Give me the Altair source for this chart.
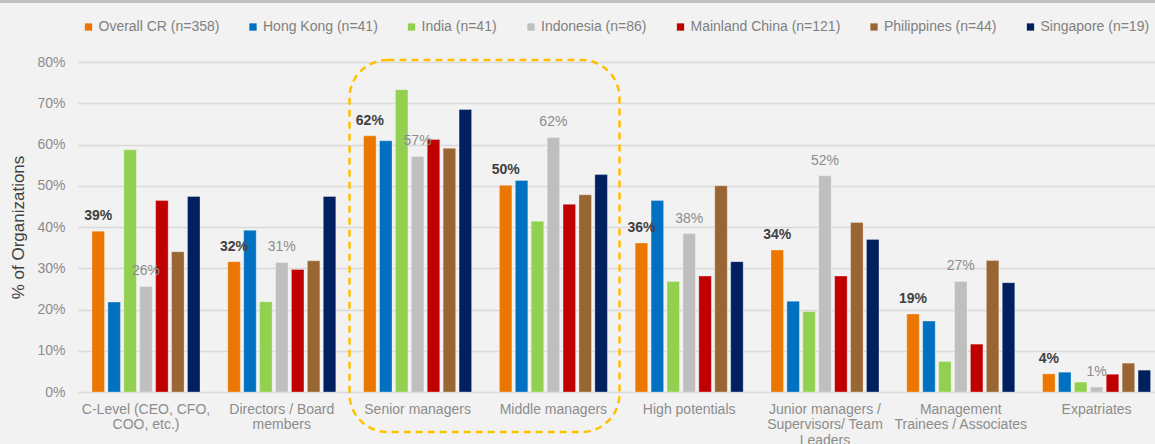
import altair as alt
import pandas as pd

categories = [
    "C-Level (CEO, CFO,\nCOO, etc.)",
    "Directors / Board\nmembers",
    "Senior managers",
    "Middle managers",
    "High potentials",
    "Junior managers /\nSupervisors/ Team\nLeaders",
    "Management\nTrainees / Associates",
    "Expatriates",
]
series = [
    "Overall CR (n=358)",
    "Hong Kong (n=41)",
    "India (n=41)",
    "Indonesia (n=86)",
    "Mainland China (n=121)",
    "Philippines (n=44)",
    "Singapore (n=19)",
]
colors = ["#EB7600", "#0070C0", "#92D050", "#BFBFBF", "#C00000", "#996633", "#002060"]

overall = [39.0, 31.6, 62.1, 50.1, 36.1, 34.4, 18.9, 4.4]
hong_kong = [21.8, 39.2, 60.9, 51.3, 46.4, 22.0, 17.2, 4.8]
india = [58.7, 21.9, 73.3, 41.4, 26.8, 19.5, 7.4, 2.4]
indonesia = [25.6, 31.4, 57.1, 61.7, 38.4, 52.4, 26.8, 1.2]
mainland = [46.4, 29.7, 61.2, 45.5, 28.1, 28.1, 11.6, 4.3]
philippines = [34.0, 31.8, 59.1, 47.8, 50.0, 41.1, 31.9, 7.0]
singapore = [47.4, 47.4, 68.5, 52.7, 31.6, 37.0, 26.5, 5.3]

y_ticks = [0, 10, 20, 30, 40, 50, 60, 70, 80]

all_values = [overall, hong_kong, india, indonesia, mainland, philippines, singapore]
rows = []
for s, vals in zip(series, all_values):
    for c, v in zip(categories, vals):
        rows.append({"category": c, "series": s, "value": v})
df = pd.DataFrame(rows)

x_enc = alt.X(
    "category:N",
    sort=categories,
    title=None,
    scale=alt.Scale(paddingInner=0.2047, paddingOuter=0.0678, align=0.76),
    axis=alt.Axis(
        labelExpr="split(datum.label, '\\n')",
        labelAngle=0,
        labelFontSize=14,
        labelColor="#8c8c8c",
        labelFont="Liberation Sans",
        labelLineHeight=15.5,
        labelPadding=10,
        ticks=False,
        domain=False,
        grid=False,
        labelLimit=300,
    ),
)
xoff = alt.XOffset("series:N", sort=series, scale=alt.Scale(paddingInner=0.214, paddingOuter=0))
y_enc = alt.Y(
    "value:Q",
    title="% of Organizations",
    scale=alt.Scale(domain=[0, 80], nice=False),
    axis=alt.Axis(
        values=y_ticks,
        labelExpr="datum.value + '%'",
        labelFontSize=14,
        labelColor="#8c8c8c",
        labelFont="Liberation Sans",
        labelPadding=13,
        ticks=False,
        domain=False,
        gridColor="#d9d9d9",
        gridWidth=1.4,
        titleFontSize=17,
        titleFont="Liberation Sans",
        titleFontWeight="normal",
        titleColor="#404040",
        titlePadding=9,
    ),
)

bars = alt.Chart(df).mark_bar(stroke="#ffffff", strokeWidth=0.6, strokeOpacity=0.5).encode(
    x=x_enc,
    xOffset=xoff,
    y=y_enc,
    color=alt.Color(
        "series:N",
        sort=series,
        scale=alt.Scale(domain=series, range=colors),
        legend=alt.Legend(
            title=None,
            orient="none",
            direction="horizontal",
            legendX=3.5,
            legendY=-42,
            symbolType="square",
            symbolSize=53,
            symbolStrokeWidth=0,
            labelFontSize=14,
            labelFont="Liberation Sans",
            labelColor="#808080",
            labelOffset=3,
            columnPadding=26.5,
            padding=0,
            labelLimit=300,
        ),
    ),
)

labels_bold = alt.Chart(df).transform_filter(
    alt.datum.series == series[0]
).transform_calculate(
    label="round(datum.value) + '%'"
).mark_text(
    baseline="middle", dy=-15, fontSize=14, fontWeight="bold", color="#404040", font="Liberation Sans"
).encode(
    x=alt.X("category:N", sort=categories),
    xOffset=alt.XOffset("series:N", sort=series),
    y="value:Q",
    text="label:N",
)

labels_gray = alt.Chart(df).transform_filter(
    alt.datum.series == series[3]
).transform_calculate(
    label="round(datum.value) + '%'"
).mark_text(
    baseline="middle", dy=-15, fontSize=14, color="#8c8c8c", font="Liberation Sans"
).encode(
    x=alt.X("category:N", sort=categories),
    xOffset=alt.XOffset("series:N", sort=series),
    y="value:Q",
    text="label:N",
)

deco = pd.DataFrame({"k": [0]})
highlight = alt.Chart(deco).mark_rect(
    filled=False, stroke="#FFC000", strokeWidth=2.5, strokeDash=[7, 5], cornerRadius=38
).encode(
    x=alt.value(271.5), x2=alt.value(541.5), y=alt.value(-2), y2=alt.value(370)
)
top_band = alt.Chart(deco).mark_rect(color="#BFBFBF").encode(
    x=alt.value(-78), x2=alt.value(1077), y=alt.value(-62), y2=alt.value(-59)
)

chart = alt.layer(top_band, bars, labels_bold, labels_gray, highlight).properties(
    width=1077,
    height=330,
    background="#F2F2F2",
    padding={"left": 78, "top": 62, "right": 0, "bottom": 52},
    autosize=alt.AutoSizeParams(type="none"),
).configure_view(strokeWidth=0)

chart.save("out.html", embed_options={"renderer": "svg", "actions": False})
